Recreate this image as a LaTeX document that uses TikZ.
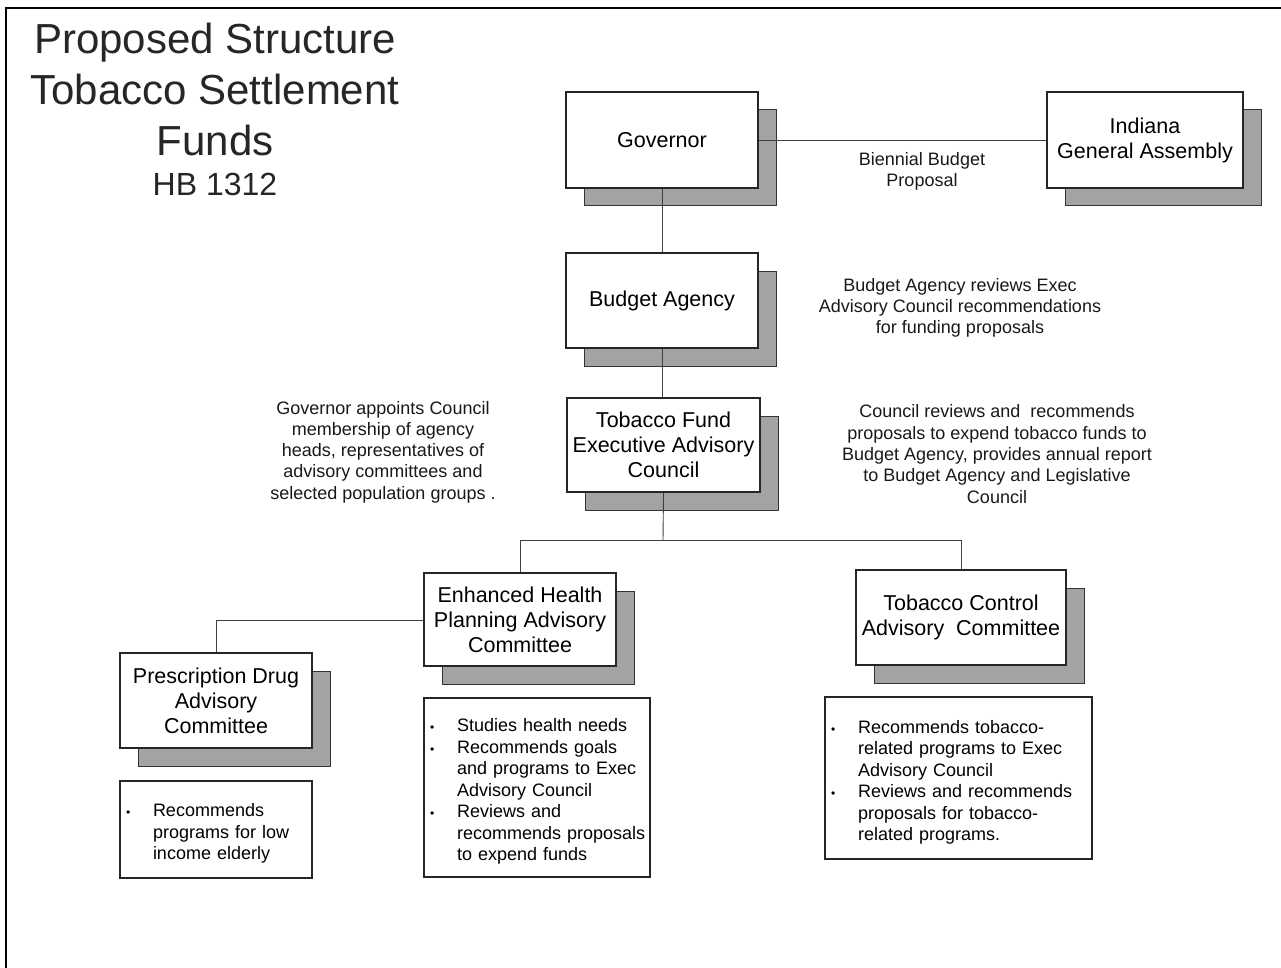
\documentclass[tikz,border=0pt]{standalone}
\usepackage{fontspec}
\setmainfont{Liberation Sans}
\usetikzlibrary{shadows}
\newcommand{\bitem}[1]{\par\hangindent=29pt\hangafter=1\noindent\makebox[29pt][l]{\hspace{2pt}{\fontsize{12}{12}\selectfont\textbullet}}#1\par}
\newcommand{\bend}{\par\vspace*{6pt}}
\tikzset{
  orgbox/.style={draw=black!85, line width=1.3pt, fill=white, align=center, inner sep=0pt,
    font=\fontsize{21.5}{25}\selectfont,
    general shadow={shadow xshift=18pt, shadow yshift=-18pt, fill=black!36, draw=black!80, line width=1pt}},
  bulletbox/.style={draw=black!85, line width=1.1pt, fill=white, align=left, inner xsep=4pt, inner ysep=0pt,
    font=\fontsize{18}{21.5}\selectfont},
  note/.style={align=center, inner sep=0pt, font=\fontsize{18}{21.3}\selectfont, text=black!90},
  conn/.style={draw=black!75, line width=0.9pt},
  frame/.style={draw=black, line width=2.6pt}
}
\begin{document}
\begin{tikzpicture}[x=1pt,y=-1pt]
\useasboundingbox (0,0) rectangle (1281,968);
\fill[white] (0,0) rectangle (1281,968);
\draw[frame] (6,970) -- (6,8) -- (1283,8);

% title
\node[align=center, inner sep=0pt, font=\fontsize{42}{51}\selectfont, text=black!85] (title) at (215,89)
  {Proposed Structure\\Tobacco Settlement\\Funds};
\node[inner sep=0pt, font=\fontsize{32}{36}\selectfont, text=black!85] (hb) at (215,184) {HB 1312};

% boxes
\node[orgbox, minimum width=192pt, minimum height=96pt] (gov) at (662,140) {Governor};
\node[orgbox, minimum width=196pt, minimum height=96pt] (iga) at (1145,140) {Indiana\\General Assembly};
\node[orgbox, minimum width=192pt, minimum height=95pt] (ba) at (662,300.5) {Budget Agency};
\node[orgbox, minimum width=193pt, minimum height=94pt] (tfc) at (663.5,445) {Tobacco Fund\\Executive Advisory\\Council};
\node[orgbox, minimum width=192pt, minimum height=93pt] (ehp) at (520,619.5) {Enhanced Health\\Planning Advisory\\Committee};
\node[orgbox, minimum width=192pt, minimum height=95pt] (pd) at (216,700.5) {Prescription Drug\\Advisory\\Committee};
\node[orgbox, minimum width=210pt, minimum height=95pt] (tc) at (961,617.5) {Tobacco Control\\Advisory\ \ Committee};

% notes
\node[note] (bbp) at (922,171.5) {Biennial Budget\\Proposal};
\node[note] (banote) at (960,308) {Budget Agency reviews Exec\\Advisory Council recommendations\\for funding proposals};
\node[note] (lnote) at (383,452) {Governor appoints Council\\membership of agency\\heads, representatives of\\advisory committees and\\selected population groups .};
\node[note] (rnote) at (997,454) {Council reviews and\ \ recommends\\proposals to expend tobacco funds to\\Budget Agency, provides annual report\\to Budget Agency and Legislative\\Council};

% bullet boxes
\node[bulletbox, text width=184pt, minimum height=97pt] (b1) at (216,829.5)
  {\bitem{Recommends\newline programs for low\newline income elderly}\bend};
\node[bulletbox, text width=218pt, minimum height=179pt] (b2) at (537,787.5)
  {\bitem{Studies health needs}\bitem{Recommends goals\newline and programs to Exec\newline Advisory Council}\bitem{Reviews and\newline recommends proposals\newline to expend funds}\bend};
\node[bulletbox, text width=259pt, minimum height=162pt] (b3) at (958.5,778)
  {\bitem{Recommends tobacco-\newline related programs to Exec\newline Advisory Council}\bitem{Reviews and recommends\newline proposals for tobacco-\newline related programs.}\bend};

% connectors
\coordinate (split) at (663,540);
\coordinate (ehpl) at (ehp.west |- 0,620);
\draw[conn] (gov.east) -- (iga.west);
\draw[conn] (gov.south) -- (ba.north);
\draw[conn] (ba.south) -- (ba.south |- tfc.north);
\draw[conn] (tfc.south) -- (split);
\draw[conn] (split) -| (ehp.north);
\draw[conn] (split) -| (tc.north);
\draw[conn] (ehpl) -| (pd.north);
\end{tikzpicture}
\end{document}
